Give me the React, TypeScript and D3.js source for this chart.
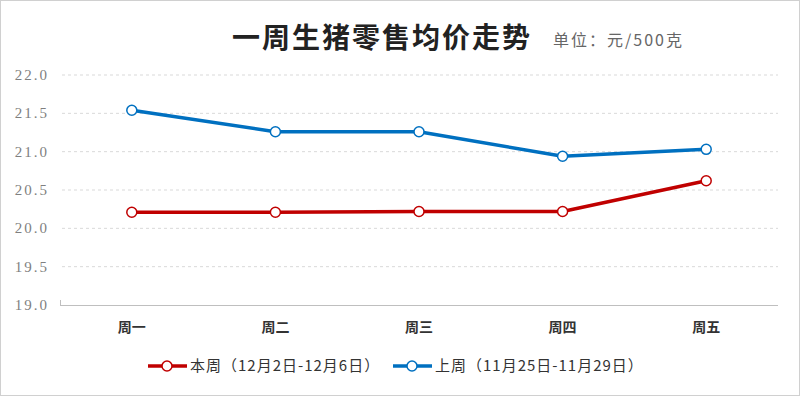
import { useEffect, useRef } from 'react';
import * as d3 from 'd3';

const categories = ['周一', '周二', '周三', '周四', '周五'];
const thisWeek = [20.21, 20.21, 20.22, 20.22, 20.62];
const lastWeek = [21.54, 21.26, 21.26, 20.94, 21.03];
const yTicks = [19.0, 19.5, 20.0, 20.5, 21.0, 21.5, 22.0];
const seriesNames = ['本周（12月2日-12月6日）', '上周（11月25日-11月29日）'];
const seriesColors = ['#C00000', '#0070C0'];

const W = 800;
const H = 396;

export default function App() {
  const svgRef = useRef<SVGSVGElement>(null);

  useEffect(() => {
    if (!svgRef.current) return;
    const svg = d3.select(svgRef.current);
    svg.selectAll('*').remove();

    const x = d3.scaleBand().domain(categories).range([60, 778]);
    const y = d3.scaleLinear().domain([19, 22]).range([305, 75]);

    // frame
    svg.append('rect')
      .attr('x', 0.5).attr('y', 0.5)
      .attr('width', W - 1).attr('height', H - 1)
      .attr('fill', '#fff')
      .attr('stroke', '#d0d0d0');

    // title
    svg.append('text')
      .attr('x', 232).attr('y', 48)
      .style('font-family', '"Noto Sans CJK SC", sans-serif')
      .style('font-size', '28px')
      .style('font-weight', 700)
      .style('letter-spacing', '2px')
      .style('fill', '#222')
      .text('一周生猪零售均价走势');

    svg.append('text')
      .attr('x', 553).attr('y', 46)
      .style('font-family', '"Noto Sans CJK SC", sans-serif')
      .style('font-size', '16px')
      .style('letter-spacing', '2px')
      .style('fill', '#666')
      .text('单位：元/500克');

    // gridlines + y labels
    yTicks.forEach(t => {
      if (t > 19) {
        svg.append('line')
          .attr('x1', 62).attr('x2', 778)
          .attr('y1', y(t)).attr('y2', y(t))
          .attr('stroke', '#d9d9d9')
          .attr('stroke-dasharray', '3,3');
      }
      svg.append('text')
        .attr('x', 49).attr('y', y(t) + 5)
        .attr('text-anchor', 'end')
        .style('font-family', '"Liberation Serif", serif')
        .style('font-size', '15px')
        .style('letter-spacing', '2px')
        .style('fill', '#7f7f7f')
        .text(t.toFixed(1));
    });

    // x axis
    svg.append('line')
      .attr('x1', 60).attr('x2', 778)
      .attr('y1', 305.5).attr('y2', 305.5)
      .attr('stroke', '#bfbfbf');
    svg.append('line')
      .attr('x1', 60.5).attr('x2', 60.5)
      .attr('y1', 300).attr('y2', 305)
      .attr('stroke', '#bfbfbf');

    categories.forEach(c => {
      svg.append('text')
        .attr('x', x(c)! + x.bandwidth() / 2)
        .attr('y', 332)
        .attr('text-anchor', 'middle')
        .style('font-family', '"Noto Sans CJK SC", sans-serif')
        .style('font-size', '14px')
        .style('font-weight', 700)
        .style('fill', '#333')
        .text(c);
    });

    const cx = (c: string) => x(c)! + x.bandwidth() / 2;
    const line = d3.line<number>()
      .x((_, i) => cx(categories[i]))
      .y(d => y(d));

    [thisWeek, lastWeek].forEach((vals, si) => {
      svg.append('path')
        .datum(vals)
        .attr('d', line)
        .attr('fill', 'none')
        .attr('stroke', seriesColors[si])
        .attr('stroke-width', 3.5)
        .attr('stroke-linejoin', 'round');
      svg.selectAll(null)
        .data(vals)
        .join('circle')
        .attr('cx', (_, i) => cx(categories[i]))
        .attr('cy', d => y(d))
        .attr('r', 5)
        .attr('fill', '#fff')
        .attr('stroke', seriesColors[si])
        .attr('stroke-width', 1.5);
    });

    // legend
    const legendX = [148, 393];
    seriesNames.forEach((name, i) => {
      const lx = legendX[i];
      svg.append('line')
        .attr('x1', lx).attr('x2', lx + 39)
        .attr('y1', 366).attr('y2', 366)
        .attr('stroke', seriesColors[i])
        .attr('stroke-width', 3.5);
      svg.append('circle')
        .attr('cx', lx + 19).attr('cy', 366).attr('r', 5)
        .attr('fill', '#fff')
        .attr('stroke', seriesColors[i])
        .attr('stroke-width', 1.5);
      svg.append('text')
        .attr('x', lx + 42).attr('y', 371)
        .style('font-family', '"Noto Sans CJK SC", sans-serif')
        .style('font-size', '15px')
        .style('letter-spacing', '1px')
        .style('fill', '#333')
        .text(name);
    });
  }, []);

  return (
    <svg
      ref={svgRef}
      width={W}
      height={H}
      style={{ position: 'absolute', left: 0, top: 0, background: '#fff' }}
    />
  );
}
